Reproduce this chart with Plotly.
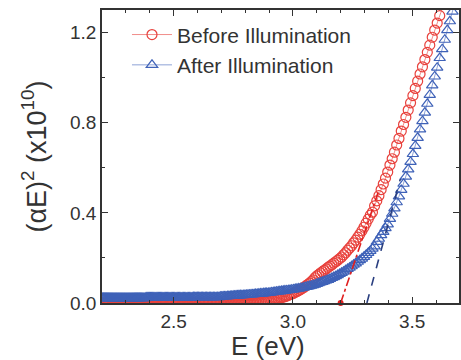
import plotly.graph_objects as go

# Spectra were sampled every 1 nm; photon energy E = 1240 / wavelength (eV)
WL_START = 564   # nm, first sample (lowest energy)

# (alpha*E)^2 (x10^10) before illumination, one value per nm from 564 nm downward
before = (
    [0.000] * 124 +                                                          # 564-441 nm
    [0.000, 0.000, 0.000, 0.000, 0.001, 0.002, 0.003, 0.004, 0.005, 0.006,
     0.007, 0.008, 0.010, 0.011, 0.013, 0.014, 0.016, 0.018, 0.020, 0.022] + # 440-421
    [0.024, 0.026, 0.028, 0.031, 0.034, 0.037, 0.040, 0.043, 0.047, 0.051,
     0.055, 0.060, 0.065, 0.070, 0.076, 0.082, 0.088, 0.095, 0.102, 0.112] + # 420-401
    [0.120, 0.126, 0.133, 0.139, 0.145, 0.151, 0.158, 0.164, 0.170, 0.177] + # 400-391
    [0.183, 0.190, 0.197, 0.204, 0.214, 0.223, 0.234, 0.244, 0.254, 0.267] + # 390-381
    [0.279, 0.292, 0.305, 0.320, 0.336, 0.354, 0.372, 0.390, 0.403, 0.431] + # 380-371
    [0.453, 0.476, 0.503, 0.528, 0.554, 0.581, 0.612, 0.640, 0.669, 0.701] + # 370-361
    [0.730, 0.763, 0.792, 0.824, 0.856, 0.888, 0.920, 0.952, 0.984, 1.016] + # 360-351
    [1.048, 1.080, 1.112, 1.144, 1.179, 1.211, 1.242, 1.275, 1.305, 1.338]   # 350-341
)

# (alpha*E)^2 (x10^10) after illumination, one value per nm from 564 nm downward
after = (
    [0.022] * 44 + [0.024] * 40 + [0.026] * 20 +                             # 564-461 nm
    [0.028, 0.028, 0.029, 0.029, 0.029, 0.030, 0.030, 0.031, 0.031, 0.032,
     0.032, 0.033, 0.033, 0.034, 0.034, 0.035, 0.035, 0.036, 0.036, 0.037] + # 460-441
    [0.037, 0.038, 0.038, 0.039, 0.040, 0.040, 0.041, 0.042, 0.042, 0.043,
     0.044, 0.045, 0.045, 0.046, 0.047, 0.048, 0.049, 0.050, 0.051, 0.052] + # 440-421
    [0.053, 0.054, 0.055, 0.056, 0.057, 0.058, 0.059, 0.060, 0.062, 0.063,
     0.064, 0.066, 0.067, 0.069, 0.071, 0.073, 0.075, 0.077, 0.079, 0.081] + # 420-401
    [0.085, 0.088, 0.091, 0.094, 0.097, 0.100, 0.103, 0.107, 0.111, 0.115] + # 400-391
    [0.119, 0.124, 0.129, 0.134, 0.139, 0.145, 0.151, 0.157, 0.163, 0.170] + # 390-381
    [0.176, 0.183, 0.190, 0.197, 0.205, 0.213, 0.222, 0.231, 0.241, 0.251] + # 380-371
    [0.271, 0.285, 0.301, 0.316, 0.332, 0.349, 0.373, 0.396, 0.420, 0.447] + # 370-361
    [0.473, 0.502, 0.529, 0.561, 0.593, 0.626, 0.661, 0.697, 0.733, 0.770] + # 360-351
    [0.807, 0.845, 0.884, 0.923, 0.966, 1.005, 1.044, 1.087, 1.126, 1.168] + # 350-341
    [1.211, 1.250, 1.293, 1.336]                                             # 340-337
)

# Linear (Tauc) extrapolation lines: energies (eV) and values
fit_before_E = [3.20, 3.36]
fit_before_V = [0.0, 0.50]
fit_after_E = [3.31, 3.45]
fit_after_V = [0.0, 0.55]

E_before = [1240.0 / (WL_START - i) for i in range(len(before))]
E_after = [1240.0 / (WL_START - i) for i in range(len(after))]

RED = "#e8413c"
BLUE = "#3f62b8"
FONT = "Liberation Sans, Arial, sans-serif"
INK = "#333333"

fig = go.Figure()
fig.add_trace(go.Scatter(
    x=E_before, y=before, mode="lines+markers", name="Before Illumination",
    line=dict(color=RED, width=0.6),
    marker=dict(symbol="circle-open", size=10, color=RED, line=dict(width=1.2)),
))
fig.add_trace(go.Scatter(
    x=E_after, y=after, mode="lines+markers", name="After Illumination",
    line=dict(color=BLUE, width=0.6),
    marker=dict(symbol="triangle-up-open", size=10, color=BLUE, line=dict(width=1.2)),
))
fig.add_trace(go.Scatter(
    x=fit_before_E, y=fit_before_V, mode="lines", showlegend=False,
    line=dict(color="#e02020", width=1.6, dash="dashdot"),
))
fig.add_trace(go.Scatter(
    x=fit_before_E[:1], y=fit_before_V[:1], mode="markers", showlegend=False,
    marker=dict(color="#e02020", size=6), cliponaxis=False,
))
fig.add_trace(go.Scatter(
    x=fit_after_E, y=fit_after_V, mode="lines", showlegend=False,
    line=dict(color="#2a3f80", width=1.6, dash="dash"),
))

axis_common = dict(
    showline=True, linecolor=INK, linewidth=1.5, mirror="ticks",
    ticks="inside", ticklen=6, tickcolor=INK, tickwidth=1.2,
    showgrid=False, zeroline=False,
    tickfont=dict(family=FONT, size=19, color=INK),
)

fig.update_xaxes(
    range=[2.2, 3.696], dtick=0.5, tick0=2.5, tickformat=".1f",
    minor=dict(dtick=0.1, ticks="inside", ticklen=3, tickcolor=INK),
    **axis_common,
)
fig.update_yaxes(
    range=[0, 1.3], dtick=0.4, tick0=0, tickformat=".1f",
    minor=dict(dtick=0.2, ticks="inside", ticklen=3, tickcolor=INK),
    title=dict(text="(αE)<sup>2</sup> (x10<sup>10</sup>)",
               font=dict(family=FONT, size=27, color=INK), standoff=16),
    **axis_common,
)

fig.add_annotation(
    text="E (eV)", xref="paper", yref="paper", x=0.465, y=-0.2,
    xanchor="center", yanchor="bottom", showarrow=False, borderpad=0,
    font=dict(family=FONT, size=26, color=INK),
)

fig.update_layout(
    width=461, height=360,
    margin=dict(l=102, r=0, t=10, b=57),
    plot_bgcolor="white", paper_bgcolor="white",
    legend=dict(x=0.07, y=0.985, xanchor="left", yanchor="top",
                bgcolor="rgba(0,0,0,0)", font=dict(family=FONT, size=21, color=INK),
                tracegroupgap=0, itemwidth=40),
)

fig.write_html("out.html")
